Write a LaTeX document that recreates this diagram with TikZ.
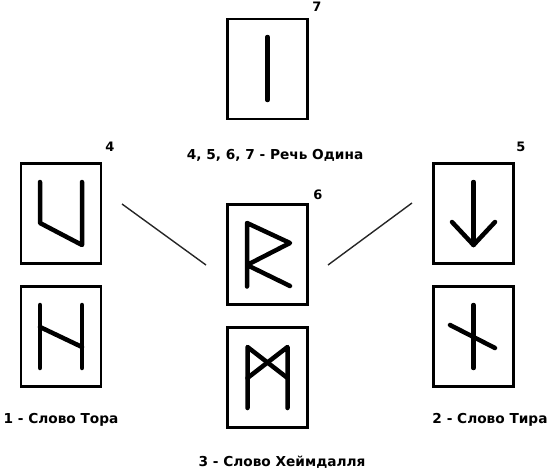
\documentclass[tikz,border=0pt]{standalone}
\usepackage{fontspec}
\setmainfont{DejaVu Sans}
\begin{document}
\begin{tikzpicture}[x=1pt,y=-1pt,
  runebox/.style={draw=black,line width=2.8pt,minimum width=80pt,minimum height=100pt,inner sep=0pt},
  runestroke/.style={line width=4.5pt,line cap=round,line join=round},
  linkline/.style={line width=1.4pt,draw=black!85},
  caption/.style={font=\bfseries\fontsize{13.7}{15}\selectfont,inner sep=0pt},
  numlabel/.style={font=\bfseries\fontsize{13}{14}\selectfont,inner sep=0pt}]
\useasboundingbox (0,0) rectangle (550,471);
% boxes
\node[runebox] (b7) at (267.5,69) {};
\node[runebox] (b4) at (61,213.5) {};
\node[runebox] (b4b) at (61,336.5) {};
\node[runebox] (b6) at (267.5,254.5) {};
\node[runebox] (b6b) at (267.5,377.5) {};
\node[runebox] (b5) at (473.5,213.5) {};
\node[runebox] (b5b) at (473.5,336.5) {};
% runes
\draw[runestroke] ([shift={(0,-32)}]b7.center) -- ([shift={(0,31)}]b7.center);
\draw[runestroke] ([shift={(-21,-31.5)}]b4.center) -- ([shift={(-21,9.5)}]b4.center) -- ([shift={(21,31.5)}]b4.center) -- ([shift={(21,-31.5)}]b4.center);
\draw[runestroke] ([shift={(-21,-31.5)}]b4b.center) -- ([shift={(-21,31.5)}]b4b.center);
\draw[runestroke] ([shift={(21,-31.5)}]b4b.center) -- ([shift={(21,31.5)}]b4b.center);
\draw[runestroke] ([shift={(-21,-9.5)}]b4b.center) -- ([shift={(21,10.5)}]b4b.center);
\draw[runestroke] ([shift={(-20.5,32)}]b6.center) -- ([shift={(-20.5,-31.5)}]b6.center) -- ([shift={(22.5,-11.5)}]b6.center) -- ([shift={(-20.5,10.5)}]b6.center) -- ([shift={(22.5,31.5)}]b6.center);
\draw[runestroke] ([shift={(-20,30.5)}]b6b.center) -- ([shift={(-20,-30.5)}]b6b.center) -- ([shift={(20,0.5)}]b6b.center);
\draw[runestroke] ([shift={(20,30.5)}]b6b.center) -- ([shift={(20,-30.5)}]b6b.center) -- ([shift={(-20,0.5)}]b6b.center);
\draw[runestroke] ([shift={(0,-31.5)}]b5.center) -- ([shift={(0,31.5)}]b5.center);
\draw[runestroke] ([shift={(-21.5,8.5)}]b5.center) -- ([shift={(0,31.5)}]b5.center) -- ([shift={(21.5,8.5)}]b5.center);
\draw[runestroke] ([shift={(0,-31.5)}]b5b.center) -- ([shift={(0,31.5)}]b5b.center);
\draw[runestroke] ([shift={(-23.5,-11.5)}]b5b.center) -- ([shift={(21.5,11.5)}]b5b.center);
% connectors
\coordinate (l1) at (122,204);
\coordinate (l2) at (206,265);
\coordinate (r1) at (328,265);
\coordinate (r2) at (412,203);
\draw[linkline] (l1) -- (l2);
\draw[linkline] (r1) -- (r2);
% numbers
\node[numlabel] (n7) at (317,7) {7};
\node[numlabel] (n4) at (110,147) {4};
\node[numlabel] (n5) at (521,147) {5};
\node[numlabel] (n6) at (318,195) {6};
% captions
\node[caption] (c1) at (275,155) {4, 5, 6, 7 - Речь Одина};
\node[caption] (c2) at (61,420) {1 - Слово Тора};
\node[caption] (c3) at (490,420) {2 - Слово Тира};
\node[caption] (c4) at (282,462) {3 - Слово Хеймдалля};
\end{tikzpicture}
\end{document}
